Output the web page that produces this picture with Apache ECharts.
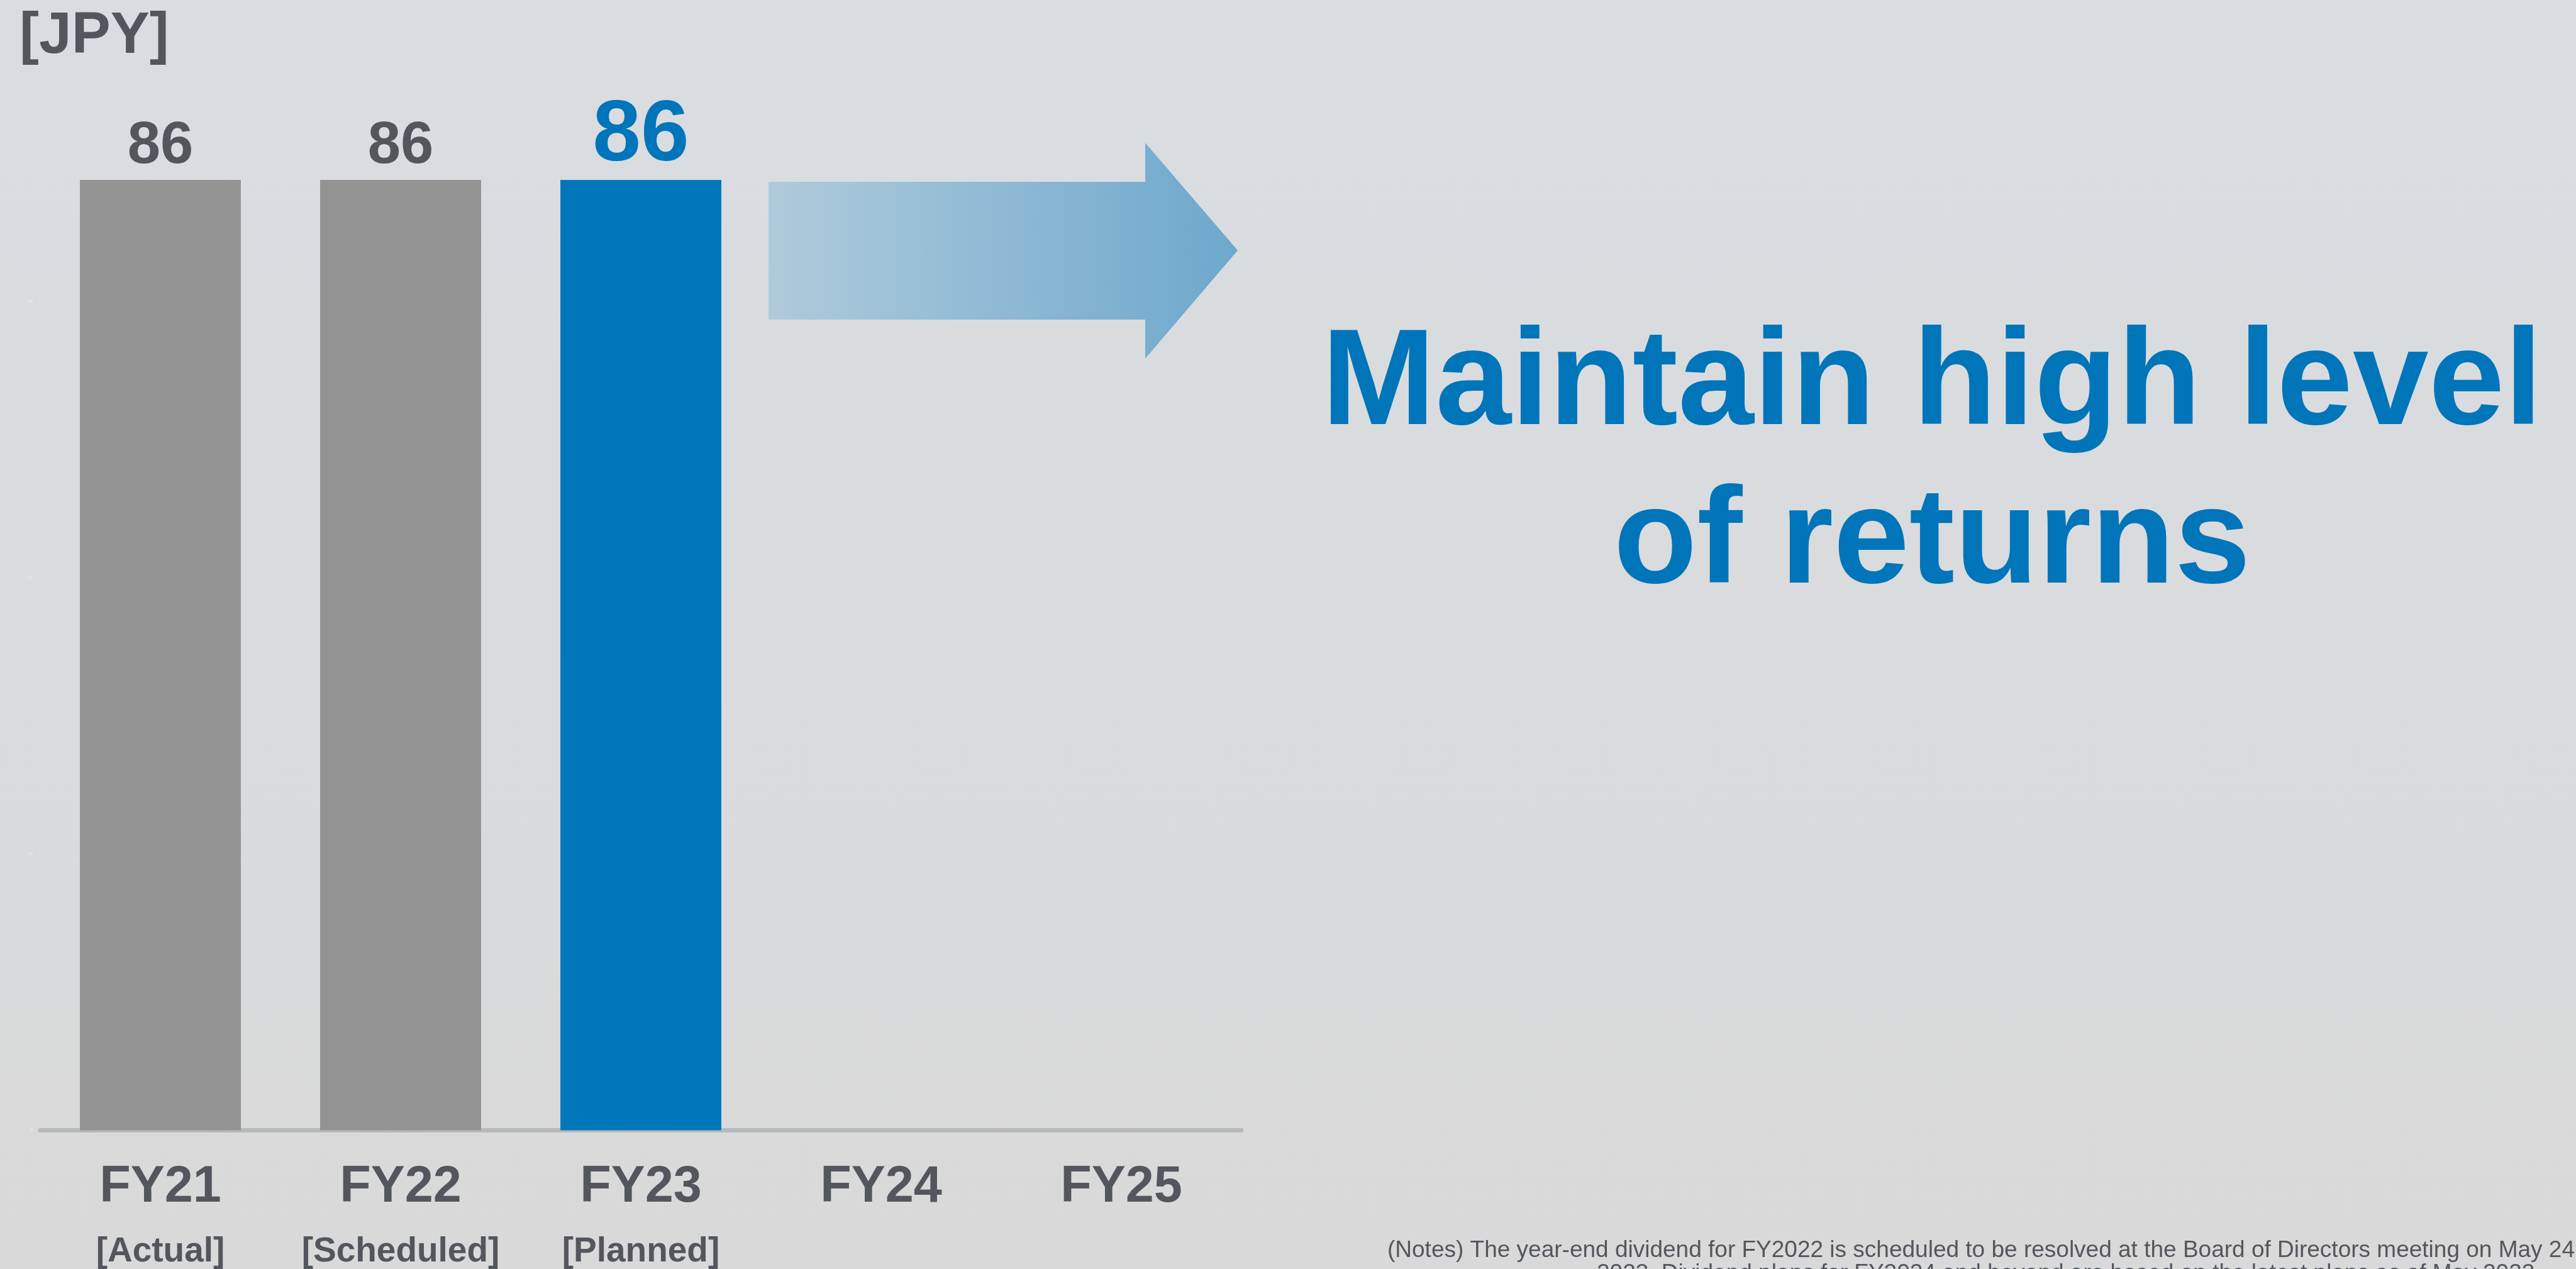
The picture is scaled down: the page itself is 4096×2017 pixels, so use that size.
<!DOCTYPE html>
<html>
<head>
<meta charset="utf-8">
<script src="https://cdn.jsdelivr.net/npm/echarts@6/dist/echarts.min.js"></script>
<style>
html,body{margin:0;padding:0;background:#d9dbde;}
#chart{width:4096px;height:2017px;}
</style>
</head>
<body>
<div id="chart"></div>
<script>
// ---- data ----
const categories = ['FY21', 'FY22', 'FY23', 'FY24', 'FY25'];
const statusLabels = ['[Actual]', '[Scheduled]', '[Planned]', '', ''];
const dividends = [86, 86, 86, null, null];
const yTicks = [0, 25, 50, 75, 100];
const unitLabel = '[JPY]';
const headline = 'Maintain high level\nof returns';
const noteLine1 = '(Notes) The year-end dividend for FY2022 is scheduled to be resolved at the Board of Directors meeting on May 24';
const noteLine2 = '2023. Dividend plans for FY2024 and beyond are based on the latest plans as of May 2023';

// ---- styles ----
const FONT = '"Liberation Sans", Arial, sans-serif';
const GREY_TEXT = '#53575d';
const BLUE_TEXT = '#0075b9';
const GREY_BAR = '#939393';
const BLUE_BAR = '#0077bb';
const highlightIndex = 2;

const chart = echarts.init(document.getElementById('chart'), null, {renderer: 'canvas'});

const barData = dividends.map((v, i) => {
  const hi = i === highlightIndex;
  return {
    value: v,
    itemStyle: {color: hi ? BLUE_BAR : GREY_BAR},
    label: hi
      ? {fontSize: 138, color: BLUE_TEXT, distance: 0}
      : {fontSize: 94, color: GREY_TEXT, distance: 6}
  };
});

const option = {
  backgroundColor: {
    type: 'linear', x: 0, y: 0, x2: 0, y2: 1,
    colorStops: [{offset: 0, color: '#d9dde1'}, {offset: 1, color: '#d9d9d9'}]
  },
  animation: false,
  grid: {left: 64, right: 2122, top: 40, bottom: 218, containLabel: false},
  xAxis: {
    type: 'category',
    data: categories,
    axisTick: {show: false},
    axisLine: {show: true, lineStyle: {color: '#b6b9bc', width: 7}},
    axisLabel: {
      interval: 0,
      margin: 40,
      formatter: (val, idx) => statusLabels[idx] ? '{a|' + val + '}\n{b|' + statusLabels[idx] + '}' : '{a|' + val + '}',
      rich: {
        a: {fontFamily: FONT, fontWeight: 'bold', fontSize: 81, color: GREY_TEXT, lineHeight: 102},
        b: {fontFamily: FONT, fontWeight: 'bold', fontSize: 55, color: GREY_TEXT, lineHeight: 102}
      }
    }
  },
  yAxis: {
    type: 'value',
    min: yTicks[0],
    max: yTicks[yTicks.length - 1],
    interval: yTicks[1] - yTicks[0],
    splitLine: {show: false},
    axisLine: {show: false},
    axisTick: {show: false},
    axisLabel: {
      show: true, fontSize: 6, color: '#eef0f2', margin: 12, fontFamily: FONT,
      formatter: v => v === 100 ? '' : String(v)
    }
  },
  series: [{
    type: 'bar',
    data: barData,
    barCategoryGap: '33%',
    label: {
      show: true,
      position: 'top',
      fontFamily: FONT,
      fontWeight: 'bold'
    }
  }],
  graphic: [
    {
      type: 'text', left: 31, top: 12,
      style: {text: unitLabel, font: 'bold 93px ' + FONT, fill: GREY_TEXT}
    },
    {
      type: 'polygon',
      shape: {points: [[1222, 289], [1821, 289], [1821, 227], [1968, 398], [1821, 570], [1821, 508], [1222, 508]]},
      style: {
        fill: {
          type: 'linear', x: 0, y: 0, x2: 1, y2: 0,
          colorStops: [{offset: 0, color: '#afcadb'}, {offset: 1, color: '#6da8cc'}]
        }
      }
    },
    {
      type: 'text', x: 3072, y: 740,
      style: {
        text: headline, font: 'bold 217px ' + FONT, fill: BLUE_TEXT,
        textAlign: 'center', textVerticalAlign: 'middle', lineHeight: 252
      }
    },
    {
      type: 'text', x: 2206, y: 1988,
      style: {text: noteLine1, font: '37px ' + FONT, fill: GREY_TEXT, textAlign: 'left', textVerticalAlign: 'middle'}
    },
    {
      type: 'text', x: 2539, y: 2025,
      style: {text: noteLine2, font: '37px ' + FONT, fill: GREY_TEXT, textAlign: 'left', textVerticalAlign: 'middle'}
    }
  ]
};

chart.setOption(option);
</script>
</body>
</html>
